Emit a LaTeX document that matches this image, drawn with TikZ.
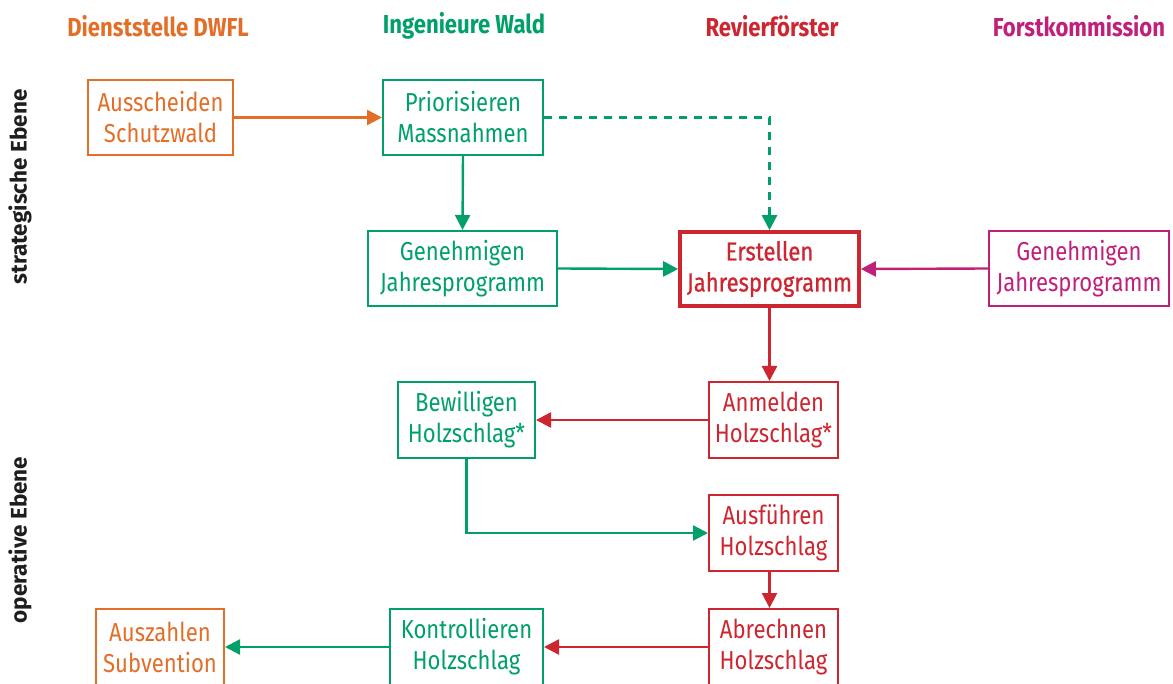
\documentclass[tikz,border=0pt]{standalone}
\usepackage{fontspec}
\setmainfont{Fira Sans}[FakeStretch=0.85]
\newfontfamily\sidefont{Fira Sans}
\newfontfamily\medfont{Fira Sans}[FakeStretch=0.85, FakeBold=0.8]
\usetikzlibrary{arrows.meta,calc}
\definecolor{corange}{RGB}{226,110,40}
\definecolor{cgreen}{RGB}{0,160,104}
\definecolor{cred}{RGB}{206,38,48}
\definecolor{cmag}{RGB}{192,32,122}
\definecolor{cside}{RGB}{30,30,30}
\tikzset{
  box/.style={draw, line width=2pt, inner sep=0pt, align=center,
    font=\fontsize{26}{31}\selectfont},
  head/.style={font=\fontsize{26}{30}\bfseries\selectfont, anchor=center},
  side/.style={font=\sidefont\fontsize{22.5}{26}\bfseries\selectfont, text=cside, rotate=90, anchor=center},
  conn/.style={line width=2.4pt, -{Triangle[length=15pt,width=15pt]}},
}
\begin{document}
\begin{tikzpicture}[x=1pt,y=-1pt]
\useasboundingbox (0,0) rectangle (1173,684);
\begin{scope}
\clip (0,0) rectangle (1173,684);
% headers
\node[head, text=corange] (h1) at (158,26) {Dienststelle DWFL};
\node[head, text=cgreen] (h2) at (464,26) {Ingenieure Wald};
\node[head, text=cred] (h3) at (772,26) {Revierförster};
\node[head, text=cmag] (h4) at (1079,26) {Forstkommission};
% side labels
\node[side] (s1) at (20,187) {strategische Ebene};
\node[side] (s2) at (20,540) {operative Ebene};
% boxes
\node[box, draw=corange, text=corange, minimum width=145pt, minimum height=75pt] (aus) at (160.5,117.5) {Ausscheiden\\Schutzwald};
\node[box, draw=cgreen, text=cgreen, minimum width=160pt, minimum height=75pt] (prio) at (463,117.5) {Priorisieren\\Massnahmen};
\node[box, draw=cgreen, text=cgreen, minimum width=189pt, minimum height=75pt] (geng) at (462.5,268.5) {Genehmigen\\Jahresprogramm};
\node[box, draw=cred, text=cred, line width=3.6pt, minimum width=179pt, minimum height=74pt, font=\medfont\fontsize{26}{31}\selectfont] (erst) at (769.5,269) {Erstellen\\Jahresprogramm};
\node[box, draw=cmag, text=cmag, minimum width=180pt, minimum height=75pt] (genm) at (1079,268.5) {Genehmigen\\Jahresprogramm};
\node[box, draw=cred, text=cred, minimum width=129pt, minimum height=76pt] (anm) at (773.5,420) {Anmelden\\Holzschlag*};
\node[box, draw=cgreen, text=cgreen, minimum width=137pt, minimum height=76pt] (bew) at (466.5,420) {Bewilligen\\Holzschlag*};
\node[box, draw=cred, text=cred, minimum width=129pt, minimum height=76pt] (ausf) at (773.5,533) {Ausführen\\Holzschlag};
\node[box, draw=cred, text=cred, minimum width=129pt, minimum height=76pt] (abr) at (773.5,647) {Abrechnen\\Holzschlag};
\node[box, draw=cgreen, text=cgreen, minimum width=153pt, minimum height=76pt] (kon) at (466.5,647) {Kontrollieren\\Holzschlag};
\node[box, draw=corange, text=corange, minimum width=128pt, minimum height=76pt] (ausz) at (160,647) {Auszahlen\\Subvention};
% connectors
\draw[conn, color=corange] (aus.east) -- (prio.west);
\draw[conn, color=cgreen] (prio.south) -- (geng.north);
\draw[conn, color=cgreen, dash pattern=on 8pt off 7pt] (prio.east) -| (erst.north);
\draw[conn, color=cgreen] (geng.east) -- (erst.west);
\draw[conn, color=cmag] (genm.west) -- (erst.east);
\draw[conn, color=cred] (erst.south) -- (erst.south |- anm.north);
\draw[conn, color=cred] (anm.west) -- (bew.east);
\draw[conn, color=cgreen] (bew.south) |- (ausf.west);
\draw[conn, color=cred] (ausf.south -| erst.south) -- (erst.south |- abr.north);
\draw[conn, color=cred] (abr.west) -- (kon.east);
\draw[conn, color=cgreen] (kon.west) -- (ausz.east);
\end{scope}
\end{tikzpicture}
\end{document}
